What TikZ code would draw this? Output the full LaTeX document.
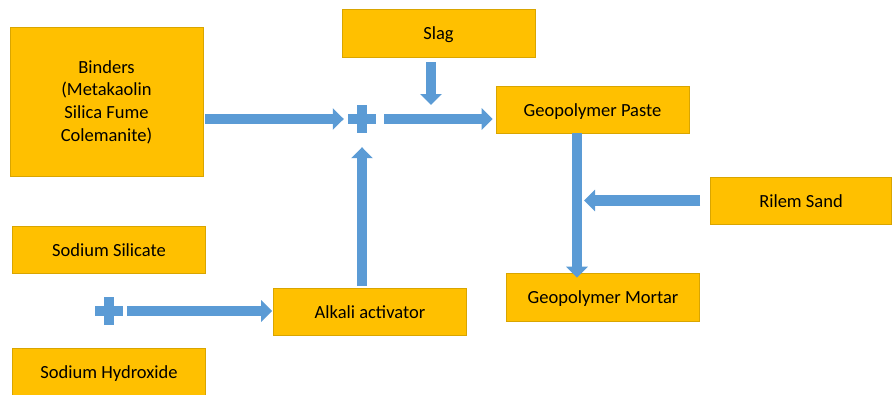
\documentclass[tikz,border=0pt]{standalone}
\usepackage{fontspec}
\setmainfont{Carlito}
\usetikzlibrary{arrows.meta,calc}
\definecolor{boxfill}{HTML}{FFC000}
\definecolor{boxline}{HTML}{D9A500}
\definecolor{arrowblue}{HTML}{5B9BD5}
\tikzset{
  box/.style={fill=boxfill, draw=boxline, line width=0.6pt, align=center, inner sep=0pt,
    minimum width=193pt, minimum height=48pt, text=black,
    font=\fontsize{18.5}{22.6}\selectfont},
  oneline/.style={text height=17pt, text depth=4pt},
  flow/.style={draw=arrowblue, line width=10.5pt, -{Triangle[length=11pt,width=21pt]}},
  plussign/.style={minimum size=28pt, inner sep=0pt,
    path picture={
      \fill[arrowblue] ([xshift=-14pt,yshift=-5pt]path picture bounding box.center) rectangle ([xshift=14pt,yshift=5pt]path picture bounding box.center);
      \fill[arrowblue] ([xshift=-5pt,yshift=-14pt]path picture bounding box.center) rectangle ([xshift=5pt,yshift=14pt]path picture bounding box.center);
    }}
}
\begin{document}
\begin{tikzpicture}[x=1pt,y=-1pt]
\useasboundingbox (0,0) rectangle (892,394);
% boxes
\node[box, minimum height=149pt] (binders) at (106.5,102) {Binders\\(Metakaolin\\Silica Fume\\Colemanite)};
\node[box, oneline] (slag) at (438.5,33) {Slag};
\node[box, oneline, minimum height=47pt] (paste) at (592.5,109.5) {Geopolymer Paste};
\node[box, oneline, minimum width=181pt, minimum height=47pt] (rilem) at (801,200.5) {Rilem Sand};
\node[box, oneline, minimum height=47pt] (silicate) at (109,249.5) {Sodium Silicate};
\node[box, oneline, minimum height=47pt] (alkali) at (370,311.5) {Alkali activator};
\node[box, oneline] (mortar) at (603,297) {Geopolymer Mortar};
\node[box, oneline, minimum height=47pt] (hydroxide) at (109,371.5) {Sodium Hydroxide};
% plus signs
\node[plussign] (plusA) at (362,119) {};
\node[plussign] (plusB) at (109,311) {};
% helper coordinates
\coordinate (slagend) at (431,105);
\coordinate (pmx) at (577,200.5);
% connectors
\draw[flow, shorten <=2pt, shorten >=4pt] (binders.east |- plusA) -- (plusA.west);
\draw[flow, shorten <=8pt, shorten >=3pt] (plusA.east) -- (plusA -| paste.west);
\draw[flow, shorten <=5pt] (slag.south -| slagend) -- (slagend);
\draw[flow, shorten <=2pt, shorten >=14pt] (alkali.north -| plusA) -- (plusA.south);
\draw[flow, shorten <=4pt, shorten >=1pt] (plusB.east) -- (plusB -| alkali.west);
\draw[flow, line width=10pt] (paste.south -| pmx) -- ([yshift=-5pt]mortar.north -| pmx);
\draw[flow, shorten <=10pt, shorten >=7pt] (rilem.west) -- (rilem.west -| pmx);
\end{tikzpicture}
\end{document}
